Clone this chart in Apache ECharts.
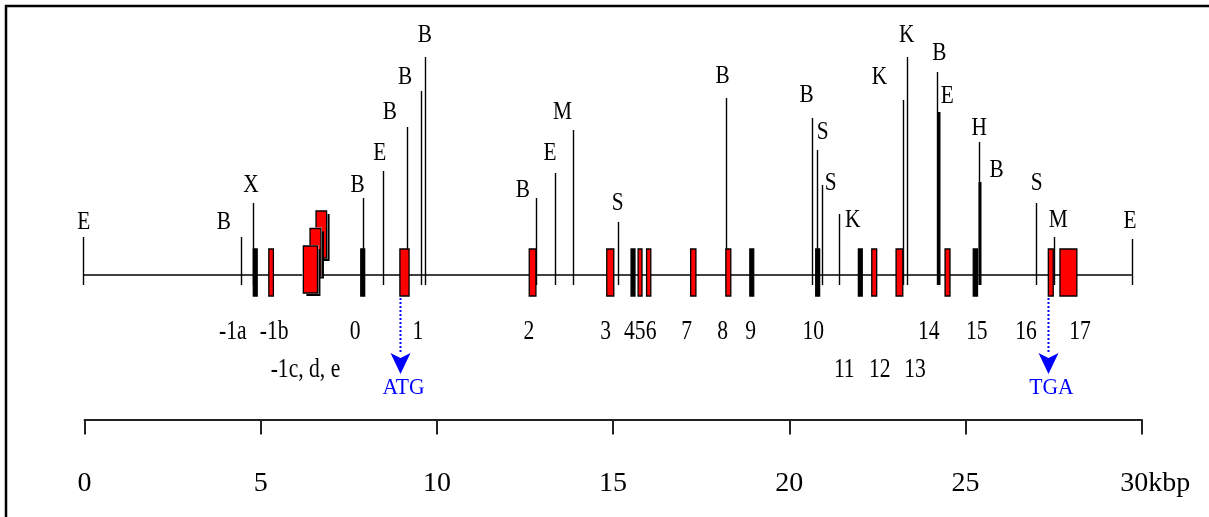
<!DOCTYPE html>
<html><head><meta charset="utf-8">
<script src="https://cdn.jsdelivr.net/npm/echarts@6/dist/echarts.min.js"></script>
<style>html,body{margin:0;padding:0;background:#fff}#c{width:1209px;height:517px}</style>
</head><body><div id="c"></div>
<script>
// ---- data (positions in kbp) ----
const siteNames = ['E','B','X','B','E','B','B','B','B','E','M','S','B','B','S','S','K','K','K','B','E','H','B','S','M','E'];
const sitePos   = [-0.05,4.43,4.77,7.89,8.48,9.14,9.54,9.66,12.81,13.34,13.85,15.13,18.20,20.65,20.78,20.94,21.41,23.22,23.33,24.20,24.24,25.37,25.41,27.00,27.52,29.72];
const siteLevel = [38,38,72,77,104,148,184,218,77,102,145,53,177,157,125,90,61,175,218,203,163,133,93,72,38,36];

const exonNames = ['-1a','-1b','-1c','-1d','-1e','0','1','2','3','4','5','6','7','8','9','10','11','12','13','14','15','16','17'];
const exonStart = [4.79,5.23,6.21,6.40,6.57,7.84,8.95,12.62,14.82,15.51,15.71,15.95,17.20,18.20,18.88,20.75,21.96,22.34,23.03,24.42,25.22,27.35,27.68];
const exonEnd   = [4.90,5.36,6.61,6.71,6.87,7.95,9.21,12.81,15.02,15.62,15.82,16.07,17.35,18.34,18.99,20.86,22.07,22.48,23.22,24.56,25.34,27.49,28.16];
const exonKind  = ['k','r','r','r','r','k','r','r','r','k','r','r','r','r','k','k','k','r','r','r','k','r','r'];
const exonTier  = [0,0,1,2,3,0,0,0,0,0,0,0,0,0,0,0,0,0,0,0,0,0,0];

const exonLabelText = ['-1a','-1b','0','1','2','3','456','7','8','9','10','14','15','16','17','-1c, d, e','11','12','13'];
const exonLabelPos  = [4.21,5.38,7.68,9.46,12.61,14.79,15.77,17.09,18.11,18.90,20.68,23.96,25.32,26.72,28.25,6.27,21.56,22.57,23.57];
const exonLabelRow  = [1,1,1,1,1,1,1,1,1,1,1,1,1,1,1,2,2,2,2];

const codonText = ['ATG','TGA'];
const codonPos  = [8.95,27.35];

const scaleTicks  = [0,5,10,15,20,25,30];
const scaleLabels = ['0','5','10','15','20','25','30kbp'];

// ---- layout / style ----
const FONT = '"Liberation Serif", "DejaVu Serif", serif';
const heavySites = [20,22];
const siteLabelNudge = [[1,-15],[-16.7,-14.7],[-1.7,-18],[-5,-13],[-3.5,-18],[-16.7,-15],[-15.7,-14],[0,-21.7],
  [-13,-8],[-4.7,-20],[-10,-18.3],[0,-18.7],[-3.3,-21.6],[-5.6,-23.3],[6,-18.3],[8.2,-2],[13.7,6],[-23.4,-23.3],
  [0,-21.7],[2,-19],[8.6,-15.7],[0.6,-13.4],[16.7,-12.3],[0.7,-19.4],[4,-17.3],[-1.7,-18]];

const chart = echarts.init(document.getElementById('c'), null, {renderer:'canvas'});

const exonData = exonNames.map((n,i)=>({value:[exonStart[i],exonEnd[i],exonTier[i]], kind:exonKind[i]}))
  .sort((a,b)=>b.value[2]-a.value[2]);

function renderSite(params, api){
  const i = params.dataIndex;
  const x = api.value(0), lvl = api.value(1);
  const p0 = api.coord([x,-10]), p1 = api.coord([x,lvl]);
  const heavy = heavySites.indexOf(i) >= 0;
  const nd = siteLabelNudge[i];
  const px = Math.round(p0[0]) + (heavy ? 0 : 0.5);
  return {type:'group', children:[
    {type:'line', shape:{x1:px,y1:p0[1],x2:px,y2:p1[1]}, style:{stroke:'#000', lineWidth: heavy?3:1.4}},
    {type:'text', x:p1[0]+nd[0], y:p1[1]+nd[1], scaleX:0.82,
      style:{text:siteNames[i], x:0, y:0, align:'center', verticalAlign:'middle', font:'26px '+FONT, fill:'#000'}}
  ]};
}

function renderExon(params, api){
  const s = api.value(0), e = api.value(1), tier = api.value(2);
  const item = exonData[params.dataIndex];
  const lift = tier ? 3 + (tier-1)*17.5 : 0;
  const lo = api.coord([s, lift-21]), hi = api.coord([e, lift+26]);
  let x = lo[0], w = Math.max(hi[0]-lo[0], 3.5);
  const y = hi[1], h = lo[1]-hi[1];
  const fill = item.kind === 'r' ? '#ff0000' : '#000000';
  const children = [];
  if (tier){
    children.push({type:'rect', shape:{x:x+3,y:y+3,width:w,height:h}, style:{fill:'#000'}});
    children.push({type:'rect', shape:{x:x-1,y:y-1,width:w+2,height:h+2}, style:{fill:'#fff'}});
  }
  children.push({type:'rect', shape:{x:x,y:y,width:w,height:h}, style:{fill:fill, stroke:'#000', lineWidth:1.3}});
  return {type:'group', children};
}

function renderExonLabel(params, api){
  const i = params.dataIndex;
  const p = api.coord([api.value(0), api.value(1) === 1 ? -57 : -95]);
  return {type:'text', x:p[0], y:p[1], scaleX:0.8,
    style:{text:exonLabelText[i], x:0, y:0, align:'center', verticalAlign:'middle', font:'27px '+FONT, fill:'#000'}};
}

function renderCodon(params, api){
  const i = params.dataIndex;
  const p = api.coord([api.value(0), -21]);
  const x = Math.round(p[0]) + 0.5, y0 = p[1] + 2, y1 = p[1] + 57;
  return {type:'group', children:[
    {type:'line', shape:{x1:x,y1:y0,x2:x,y2:y1}, style:{stroke:'#0000ff', lineWidth:2, lineDash:[2,2]}},
    {type:'polygon', shape:{points:[[x-10,y1],[x,y1+5],[x+10,y1],[x,y1+21]]}, style:{fill:'#0000ff'}},
    {type:'text', x:x+3, y:y1+35, scaleX:0.9,
      style:{text:codonText[i], x:0, y:0, align:'center', verticalAlign:'middle', font:'24px '+FONT, fill:'#0000ff'}}
  ]};
}

const mapMin = Math.min.apply(null, sitePos), mapMax = Math.max.apply(null, sitePos);

chart.setOption({
  animation:false,
  backgroundColor:'#fff',
  grid:[
    {left:84.5, right:67.3, top:0, height:375},
    {left:84.5, right:67.3, top:300, height:119.5}
  ],
  xAxis:[
    {gridIndex:0, type:'value', min:0, max:30, show:false},
    {gridIndex:1, type:'value', min:0, max:30, interval:5,
      axisLine:{show:true, lineStyle:{color:'#222', width:2}},
      axisTick:{show:true, length:15, lineStyle:{color:'#222', width:2}},
      splitLine:{show:false},
      axisLabel:{margin:50, color:'#000', fontFamily:FONT, fontSize:28,
        formatter:function(v){
          const k = scaleTicks.indexOf(v); const t = k>=0 ? scaleLabels[k] : '';
          if (t.length > 3) return '{n|' + t.slice(0,2) + '}{u|' + t.slice(2) + '}';
          return t;
        },
        rich:{n:{fontFamily:FONT, fontSize:28, color:'#000', padding:[0,0,0,27]}, u:{fontFamily:FONT, fontSize:28, color:'#000'}}
      }}
  ],
  yAxis:[
    {gridIndex:0, type:'value', min:-100, max:275, show:false},
    {gridIndex:1, type:'value', min:0, max:1, show:false}
  ],
  graphic:[
    {type:'polyline', shape:{points:[[6,517],[6,6],[1209,6]]}, style:{stroke:'#000', lineWidth:2.5, fill:null}, silent:true}
  ],
  series:[
    {type:'line', xAxisIndex:0, yAxisIndex:0, data:[[mapMin,0],[mapMax,0]], symbol:'none',
      lineStyle:{color:'#000', width:1.6}, z:1, silent:true},
    {type:'custom', xAxisIndex:0, yAxisIndex:0, renderItem:renderSite, clip:false, z:2,
      data: sitePos.map((p,i)=>[p, siteLevel[i]])},
    {type:'custom', xAxisIndex:0, yAxisIndex:0, renderItem:renderExon, clip:false, z:3,
      data: exonData.map(d=>d.value)},
    {type:'custom', xAxisIndex:0, yAxisIndex:0, renderItem:renderExonLabel, clip:false, z:3,
      data: exonLabelPos.map((p,i)=>[p, exonLabelRow[i]])},
    {type:'custom', xAxisIndex:0, yAxisIndex:0, renderItem:renderCodon, clip:false, z:3,
      data: codonPos.map(p=>[p])}
  ]
});
</script></body></html>
